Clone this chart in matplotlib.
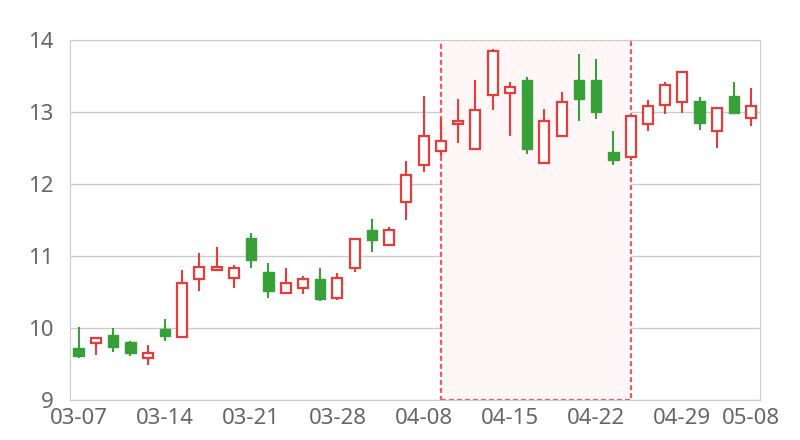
import matplotlib.pyplot as plt

dates = ['03-07', '03-08', '03-11', '03-12', '03-13', '03-14', '03-15', '03-18', '03-19', '03-20',
         '03-21', '03-22', '03-25', '03-26', '03-27', '03-28', '03-29', '04-01', '04-02', '04-03',
         '04-08', '04-09', '04-10', '04-11', '04-12', '04-15', '04-16', '04-17', '04-18', '04-19',
         '04-22', '04-23', '04-24', '04-25', '04-26', '04-29', '04-30', '05-06', '05-07', '05-08']
opens = [9.72, 9.79, 9.90, 9.80, 9.59, 9.99, 9.88, 10.68, 10.80, 10.70,
         11.25, 10.78, 10.48, 10.55, 10.68, 10.42, 10.84, 11.36, 11.15, 11.75,
         12.26, 12.46, 12.84, 12.49, 13.24, 13.26, 13.45, 12.29, 12.66, 13.44,
         13.44, 12.45, 12.38, 12.84, 13.10, 13.14, 13.15, 12.73, 13.22, 12.92]
closes = [9.61, 9.86, 9.74, 9.65, 9.65, 9.89, 10.63, 10.85, 10.85, 10.84,
          10.95, 10.51, 10.62, 10.68, 10.40, 10.70, 11.24, 11.22, 11.36, 12.13,
          12.67, 12.60, 12.87, 13.03, 13.85, 13.35, 12.49, 12.88, 13.135, 13.18,
          13.00, 12.34, 12.94, 13.09, 13.37, 13.55, 12.85, 13.05, 12.99, 13.08]
highs = [10.02, 9.87, 10.00, 9.82, 9.76, 10.125, 10.81, 11.04, 11.12, 10.875,
         11.32, 10.90, 10.83, 10.72, 10.83, 10.76, 11.24, 11.51, 11.40, 12.32,
         13.22, 12.91, 13.18, 13.45, 13.88, 13.41, 13.49, 13.04, 13.28, 13.81,
         13.74, 12.73, 12.95, 13.16, 13.41, 13.565, 13.21, 13.065, 13.42, 13.34]
lows = [9.59, 9.63, 9.66, 9.61, 9.48, 9.815, 9.87, 10.51, 10.79, 10.55,
        10.84, 10.42, 10.48, 10.47, 10.375, 10.39, 10.78, 11.05, 11.14, 11.50,
        12.16, 12.39, 12.57, 12.47, 13.03, 12.67, 12.42, 12.29, 12.65, 12.88,
        12.90, 12.26, 12.33, 12.74, 12.97, 12.99, 12.75, 12.50, 12.99, 12.80]
area_start, area_end = '04-09', '04-24'
tick_labels = ['03-07', '03-14', '03-21', '03-28', '04-08', '04-15', '04-22', '04-29', '05-08']

UP = '#e83b3b'
DOWN = '#38a038'

plt.rcParams['font.family'] = ['Noto Sans', 'DejaVu Sans']

fig = plt.figure(figsize=(8, 4.4), dpi=100)
ax = fig.add_axes([0.0875, 0.0909, 0.8625, 0.8182])

x = list(range(len(dates)))
xa, xb = dates.index(area_start), dates.index(area_end)
ax.axvspan(xa, xb, facecolor='#fff7f7', edgecolor='#f05a64', lw=1.6,
           linestyle=(0, (2.2, 1.4)), zorder=1)

for i in x:
    o, c, h, l = opens[i], closes[i], highs[i], lows[i]
    col = UP if c >= o else DOWN
    ax.vlines(i, l, h, color=col, lw=1.5, zorder=2)
    bottom, height = min(o, c), abs(c - o)
    if c >= o:
        ax.bar(i, height, 0.58, bottom=bottom, facecolor='white', edgecolor=col,
               linewidth=1.6, zorder=3)
    else:
        ax.bar(i, height, 0.6, bottom=bottom, facecolor=col, edgecolor=col,
               linewidth=1.0, zorder=3)

ax.set_xlim(-0.5, len(dates) - 0.5)
ax.set_ylim(9, 14)
ax.set_yticks(range(9, 15))
ax.set_xticks([dates.index(t) for t in tick_labels])
ax.set_xticklabels(tick_labels)
ax.grid(axis='y', color='#cccccc', lw=1)
ax.set_axisbelow(True)
for s in ax.spines.values():
    s.set_color('#cccccc')
ax.tick_params(length=0, labelsize=16, labelcolor='#666666')
ax.tick_params(axis='y', pad=12)
ax.tick_params(axis='x', pad=6)

fig.savefig('out.png', dpi=100)
